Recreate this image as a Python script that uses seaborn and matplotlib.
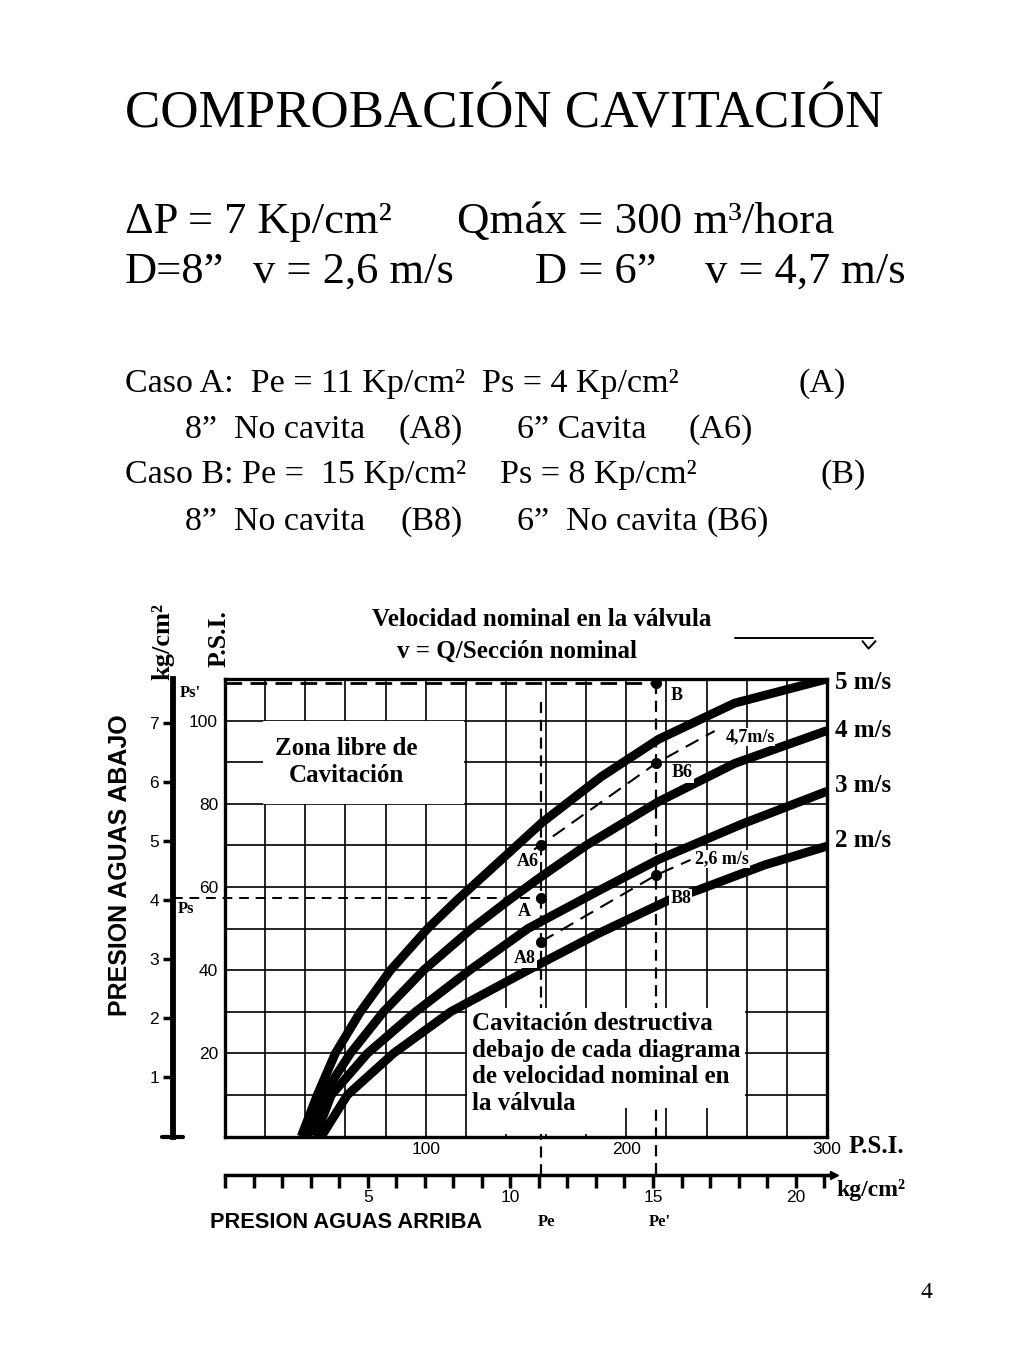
import numpy as np
import pandas as pd
import matplotlib
matplotlib.use("Agg")
import matplotlib.pyplot as plt
from matplotlib.patches import Rectangle
import seaborn as sns

# curves: x = presion aguas arriba (psi), y = presion aguas abajo (psi)
v5_x = [38, 46, 55, 67.5, 82.5, 101, 116, 158, 187.5, 216, 254, 300]
v5_y = [0, 10, 20, 30, 40, 50, 57, 75.5, 86.5, 95.5, 104.2, 110]
v4_x = [41, 49, 62.5, 79, 99, 123, 140, 157, 180, 216, 254, 300]
v4_y = [0, 10, 20, 30, 40, 50, 56.3, 62.3, 70, 80.5, 89.7, 97.6]
v3_x = [45, 53, 71, 95, 122, 151, 187, 216, 258, 300]
v3_y = [0, 10, 20, 30, 40, 50, 59.3, 66.6, 75.2, 83]
v2_x = [48, 61, 84, 112.5, 151, 186, 221, 236, 269, 300]
v2_y = [0, 10, 20, 30, 40, 48.8, 56.8, 59.3, 65.3, 69.8]
speeds = ["5 m/s", "4 m/s", "3 m/s", "2 m/s"]

# dashed interpolated speeds for the 6" and 8" pipes
d47_x = [154, 157.4, 215, 244]
d47_y = [69, 70.1, 89.8, 97.5]
d26_x = [157.4, 215, 232]
d26_y = [46.8, 62.9, 66.5]

# operating points
pt_names = ["A6", "A", "A8", "B", "B6", "B8"]
pt_x = [157.4, 157.4, 157.4, 215, 215, 215]
pt_y = [70.1, 57.3, 46.8, 109, 89.8, 62.9]

pe_a, pe_b = 157.4, 215      # Pe, Pe' (psi)
ps_a, ps_b = 57.3, 109       # Ps, Ps' (psi)
KG = 14.22                   # psi per kg/cm2

sns.set_theme(style="white")
plt.rcParams["font.family"] = ["Liberation Serif", "DejaVu Serif"]
plt.rcParams["text.color"] = "black"
plt.rcParams["xtick.color"] = "black"
plt.rcParams["ytick.color"] = "black"
plt.rcParams["axes.labelcolor"] = "black"

fig = plt.figure(figsize=(10.24, 13.65), dpi=100)


def ftext(x, y, s, **kw):
    kw.setdefault("fontsize", 24.5)
    kw.setdefault("va", "baseline")
    fig.text(x / 1024, 1 - y / 1365, s, **kw)


# slide text
ftext(125, 128, "COMPROBACIÓN CAVITACIÓN", fontsize=38.2)
ftext(125, 233, "ΔP = 7 Kp/cm²", fontsize=32)
ftext(457, 233, "Qmáx = 300 m³/hora", fontsize=32.3)
ftext(125, 283, "D=8”", fontsize=32)
ftext(253, 283, "v = 2,6 m/s", fontsize=32)
ftext(535, 283, "D = 6”", fontsize=32)
ftext(705, 283, "v = 4,7 m/s", fontsize=32)

ftext(125, 392, "Caso A:  Pe = 11 Kp/cm²  Ps = 4 Kp/cm²")
ftext(798, 392, "(A)")
ftext(185, 438, "8”  No cavita")
ftext(398, 438, "(A8)")
ftext(517, 438, "6” Cavita")
ftext(688, 438, "(A6)")
ftext(125, 483, "Caso B: Pe =  15 Kp/cm²")
ftext(500, 483, "Ps = 8 Kp/cm²")
ftext(820, 483, "(B)")
ftext(185, 530, "8”  No cavita")
ftext(400, 530, "(B8)")
ftext(517, 530, "6”  No cavita")
ftext(706, 530, "(B6)")
ftext(926, 1298, "4", fontsize=17, ha="center")

# chart
ax = fig.add_axes([225 / 1024, 1 - 1136.5 / 1365, 602 / 1024, 457.5 / 1365])

curves = pd.concat([
    pd.DataFrame({"x": xs, "y": ys, "speed": sp})
    for xs, ys, sp in zip([v5_x, v4_x, v3_x, v2_x], [v5_y, v4_y, v3_y, v2_y], speeds)
])
sns.lineplot(data=curves, x="x", y="y", hue="speed", estimator=None,
             palette={s: "black" for s in speeds}, lw=6.4, legend=False,
             solid_capstyle="butt", solid_joinstyle="round", zorder=3, ax=ax)

ax.plot(d47_x, d47_y, color="black", lw=1.5, dashes=(7, 4), zorder=3)
ax.plot(d26_x, d26_y, color="black", lw=1.5, dashes=(7, 4), zorder=3)
sns.scatterplot(x=pt_x, y=pt_y, color="black", s=55, edgecolor="black",
                zorder=6, legend=False, ax=ax)

# reference dashed lines (verticals go under the note box)
ax.plot([0, pe_b], [ps_b, ps_b], color="black", lw=2, dashes=(6, 3), clip_on=False, zorder=3)
ax.plot([-26, pe_a + 5], [ps_a, ps_a], color="black", lw=1.4, dashes=(5, 3.5), clip_on=False, zorder=3)
ax.plot([pe_a, pe_a], [104.5, -9.25], color="black", lw=1.6, dashes=(5, 3), clip_on=False, zorder=0.9)
ax.plot([pe_b, pe_b], [ps_b, -9.25], color="black", lw=1.6, dashes=(5, 3), clip_on=False, zorder=0.9)

ax.set_xlim(0, 300)
ax.set_ylim(0, 110)
ax.set_xlabel("")
ax.set_ylabel("")
ax.set_xticks(np.arange(0, 301, 20))
ax.set_xticklabels([str(t) if t in (100, 200, 300) else "" for t in range(0, 301, 20)])
ax.set_yticks(np.arange(0, 111, 10))
ax.set_yticklabels([str(t) if t in (20, 40, 60, 80, 100) else "" for t in range(0, 111, 10)])
ax.tick_params(axis="x", length=0, pad=4, labelsize=12.5)
ax.tick_params(axis="y", length=0, pad=5, labelsize=12.5)
for lab in ax.get_xticklabels() + ax.get_yticklabels():
    lab.set_family("Liberation Sans")
ax.set_axisbelow(True)
ax.grid(True, color="black", lw=1.2)
for sp in ax.spines.values():
    sp.set_color("black")
    sp.set_linewidth(2.4)

# white boxes behind the notes
ax.add_patch(Rectangle((18.9, 80), 100.1, 20, facecolor="white", edgecolor="none", zorder=1))
ax.add_patch(Rectangle((120.5, 6.9), 138.5, 23.9, facecolor="white", edgecolor="none", zorder=1))
ax.add_patch(Rectangle((120.5, 0.5), 77, 6.5, facecolor="white", edgecolor="none", zorder=1))

# kg/cm2 axes
sy = ax.secondary_yaxis(-0.0864, functions=(lambda p: p / KG, lambda k: k * KG))
sy.set_yticks(range(1, 8))
sy.spines["left"].set_linewidth(4.2)
sy.spines["left"].set_color("black")
sy.tick_params(length=7, width=2.5, pad=3, labelsize=12.5, color="black")
for lab in sy.get_yticklabels():
    lab.set_family("Liberation Sans")

sx = ax.secondary_xaxis(-0.0842, functions=(lambda p: p / KG, lambda k: k * KG))
sx.set_xticks(range(0, 22))
sx.set_xticklabels([str(k) if k in (5, 10, 15, 20) else "" for k in range(0, 22)])
sx.spines["bottom"].set_linewidth(2.5)
sx.spines["bottom"].set_color("black")
sx.tick_params(length=9, width=2.5, pad=2, labelsize=12.5, color="black")
for lab in sx.get_xticklabels():
    lab.set_family("Liberation Sans")

ax.plot([-31.4, -20.9], [0, 0], color="black", lw=3, clip_on=False)
ax.plot([300, 303], [-9.25, -9.25], color="black", lw=2.5, clip_on=False)
ax.plot([303.5], [-9.25], marker=">", ms=6, color="black", clip_on=False)

# chart texts
bold = dict(fontweight="bold", color="black")
ax.text(158, 124.2, "Velocidad nominal en la válvula", ha="center", va="center", fontsize=18, **bold)
ax.text(145.5, 116.7, "v = Q/Sección nominal", ha="center", va="center", fontsize=18, **bold)
ax.plot([254, 323], [119.8, 119.8], color="black", lw=1.4, clip_on=False)
ax.plot([317.7, 320.7, 324.2], [119.1, 117.3, 119.1], color="black", lw=1.4, clip_on=False)

ax.text(-30.9, 119.1, "kg/cm²", rotation=90, ha="center", va="center", fontsize=19, **bold)
ax.text(-3, 119.8, "P.S.I.", rotation=90, ha="center", va="center", fontsize=18.5, **bold)
ax.text(-52.3, 65.3, "PRESION AGUAS ABAJO", rotation=90, ha="center", va="center",
        fontsize=18, family="Liberation Sans", **bold)
ax.text(60.3, -20.6, "PRESION AGUAS ARRIBA", ha="center", va="center",
        fontsize=15.7, family="Liberation Sans", **bold)
ax.text(160.4, -20.6, "Pe", ha="center", va="center", fontsize=12, **bold)
ax.text(216.7, -20.6, "Pe'", ha="center", va="center", fontsize=12, **bold)
ax.text(-17.4, 106.6, "Ps'", ha="center", va="center", fontsize=12, **bold)
ax.text(-19.4, 54.7, "Ps", ha="center", va="center", fontsize=12, **bold)
ax.text(324.4, -2.5, "P.S.I.", ha="center", va="center", fontsize=18, **bold)
ax.text(321.9, -12.9, "kg/cm²", ha="center", va="center", fontsize=17, **bold)

ends = [v5_y[-1], v4_y[-1], v3_y[-1], v2_y[-1]]
nudge = [-0.8, -0.1, 1.3, 1.4]
for sp, e, n in zip(speeds, ends, nudge):
    ax.text(304, e + n, sp, ha="left", va="center", fontsize=18, **bold)

ax.text(261.6, 96, "4,7m/s", ha="center", va="center", fontsize=13, zorder=5,
        bbox=dict(facecolor="white", edgecolor="none", pad=0.5), **bold)
ax.text(247.6, 66.7, "2,6 m/s", ha="center", va="center", fontsize=13, zorder=5,
        bbox=dict(facecolor="white", edgecolor="none", pad=0.5), **bold)

lab_dx = [-6.4, -8.4, -7.9, 10.2, 12.7, 12.2]
lab_dy = [-4.1, -3.1, -3.9, -2.9, -2.4, -5.7]
for name, x, y, ddx, ddy in zip(pt_names, pt_x, pt_y, lab_dx, lab_dy):
    ax.text(x + ddx, y + ddy, name, ha="center", va="center", fontsize=13, zorder=5,
            bbox=dict(facecolor="white", edgecolor="none", pad=0.8), **bold)

ax.text(60.3, 90, "Zona libre de\nCavitación", ha="center", va="center", fontsize=18,
        zorder=2, **bold)
ax.text(123.1, 29.9, "Cavitación destructiva\ndebajo de cada diagrama\nde velocidad nominal en\nla válvula",
        ha="left", va="top", fontsize=18, zorder=2, **bold)

fig.savefig("out.png", dpi=100)
